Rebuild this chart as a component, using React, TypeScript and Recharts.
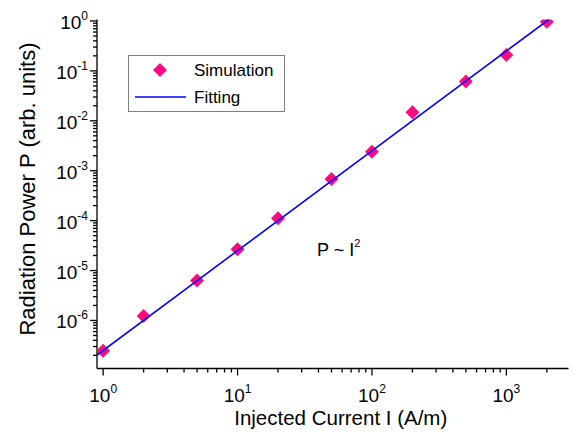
import React from "react";
import {
  ComposedChart,
  Scatter,
  XAxis,
  YAxis,
  Legend,
  ReferenceDot,
} from "recharts";

// simulated radiation power vs injected current
const CURRENT = [1, 2, 5, 10, 20, 50, 100, 200, 500, 1000, 2000];
const POWER = [2.47e-7, 1.23e-6, 6.3e-6, 2.66e-5, 1.11e-4, 6.8e-4, 2.4e-3, 1.48e-2, 6.1e-2, 0.208, 0.97];

// fitted P ~ I^2 line, end points
const FIT_CURRENT = [0.9, 2070];
const FIT_POWER = [2.03e-7, 1.07];

const X_DOMAIN = [0.9, 2900];
const Y_DOMAIN = [1.09e-7, 1.07];

const X_MAJOR = [1, 10, 100, 1000];
const X_MINOR = [2, 3, 4, 5, 6, 7, 8, 9, 20, 30, 40, 50, 60, 70, 80, 90, 200, 300, 400, 500, 600, 700, 800, 900, 2000];
const Y_MAJOR = [1e-6, 1e-5, 1e-4, 1e-3, 1e-2, 1e-1, 1];
const Y_DECADES = [1e-7, 1e-6, 1e-5, 1e-4, 1e-3, 1e-2, 1e-1];
const Y_MINOR = Y_DECADES.flatMap((d) => [2, 3, 4, 5, 6, 7, 8, 9].map((m) => m * d));

const ANNOTATION = { x: 39, y: 2e-5 };

const PINK = "#FF0A7E";
const BLUE = "#0000FF";
const TICK_FONT = "'Liberation Sans Narrow', 'Liberation Sans', Arial, sans-serif";
const FONT = "'Liberation Sans', Arial, sans-serif";

const simData = CURRENT.map((I, i) => ({ I, P: POWER[i] }));
const fitData = FIT_CURRENT.map((I, i) => ({ I, P: FIT_POWER[i] }));

const exp = (v: number) => Math.round(Math.log10(v));

function Pow10({ x, y, e, anchor }: { x: number; y: number; e: number; anchor: string }) {
  return (
    <text x={x} y={y} textAnchor={anchor} fontFamily={TICK_FONT} fontSize={19} fill="#000">
      10
      <tspan dy={-9} fontSize={12}>{e}</tspan>
    </text>
  );
}

function BottomTick(props: any) {
  const { x, y, payload } = props;
  const major = X_MAJOR.includes(payload.value);
  return (
    <g>
      <line x1={x} y1={y} x2={x} y2={y + (major ? 7 : 4)} stroke="#000" strokeWidth={1.3} />
      {major && <Pow10 x={x} y={y + 33} e={exp(payload.value)} anchor="middle" />}
    </g>
  );
}

function TopTick(props: any) {
  const { x, y, payload } = props;
  const major = X_MAJOR.includes(payload.value);
  return <line x1={x} y1={y} x2={x} y2={y + (major ? 7 : 4)} stroke="#000" strokeWidth={1.3} />;
}

function LeftTick(props: any) {
  const { x, y, payload } = props;
  const major = Y_MAJOR.includes(payload.value);
  return (
    <g>
      <line x1={x} y1={y} x2={x - (major ? 7 : 4)} y2={y} stroke="#000" strokeWidth={1.3} />
      {major && <Pow10 x={x - 9} y={y + 8} e={exp(payload.value)} anchor="end" />}
    </g>
  );
}

function RightTick(props: any) {
  const { x, y, payload } = props;
  const major = Y_MAJOR.includes(payload.value);
  return <line x1={x} y1={y} x2={x - (major ? 7 : 4)} y2={y} stroke="#000" strokeWidth={1.3} />;
}

function Diamond(props: any) {
  const { cx, cy, fill } = props;
  const r = 7;
  return (
    <polygon
      points={`${cx},${cy - r} ${cx + r},${cy} ${cx},${cy + r} ${cx - r},${cy}`}
      fill={fill}
    />
  );
}

const NoDot = () => <g />;

function LegendBox({ payload }: any) {
  // markers first, then the fit line
  const items = [...(payload ?? [])].sort(
    (a: any, b: any) => (a.type === "line" ? 1 : 0) - (b.type === "line" ? 1 : 0)
  );
  return (
    <svg width={157} height={57} style={{ display: "block" }}>
      <rect x={0.5} y={0.5} width={156} height={56} fill="#fff" stroke="#808080" />
      {items.map((item: any, i: number) => {
        const cy = 15 + i * 27;
        return (
          <g key={item.value}>
            {item.type === "line" ? (
              <line x1={7} x2={58} y1={cy} y2={cy} stroke={item.color} strokeWidth={1.6} />
            ) : (
              <Diamond cx={32} cy={cy} fill={item.color} />
            )}
            <text x={66} y={cy + 6} fontFamily={FONT} fontSize={17} fill="#000">
              {item.value}
            </text>
          </g>
        );
      })}
    </svg>
  );
}

export default function App() {
  return (
    <div style={{ position: "absolute", left: 0, top: 0, width: 577, height: 437, background: "#fff" }}>
      <ComposedChart width={577} height={437} margin={{ top: 19.5, right: 8.5, bottom: 23.5, left: 37 }}>
        <XAxis
          xAxisId="x"
          dataKey="I"
          type="number"
          scale="log"
          domain={X_DOMAIN}
          allowDataOverflow
          ticks={[...X_MAJOR, ...X_MINOR]}
          interval={0}
          height={45}
          tickSize={0}
          tickMargin={0}
          tickLine={false}
          tick={<BottomTick />}
          axisLine={{ stroke: "#000", strokeWidth: 1.3 }}
          label={{
            content: (p: any) => {
              const vb = p.viewBox ?? {};
              return (
                <text x={vb.x + vb.width / 2 + 8} y={vb.y + 56} textAnchor="middle" fontFamily={FONT} fontSize={20.5} fill="#000">
                  Injected Current I (A/m)
                </text>
              );
            },
          }}
        />
        <XAxis
          xAxisId="xTop"
          orientation="top"
          mirror
          type="number"
          scale="log"
          domain={X_DOMAIN}
          allowDataOverflow
          ticks={[...X_MAJOR, ...X_MINOR]}
          interval={0}
          height={0}
          tickSize={0}
          tickMargin={0}
          tickLine={false}
          tick={<TopTick />}
          axisLine={{ stroke: "#000", strokeWidth: 1.3 }}
        />
        <YAxis
          yAxisId="y"
          type="number"
          scale="log"
          domain={Y_DOMAIN}
          allowDataOverflow
          ticks={[...Y_MAJOR, ...Y_MINOR]}
          interval={0}
          width={60}
          tickSize={0}
          tickMargin={0}
          tickLine={false}
          tick={<LeftTick />}
          axisLine={{ stroke: "#000", strokeWidth: 1.3 }}
          label={{
            content: (p: any) => {
              const vb = p.viewBox ?? {};
              const cx = vb.x - 2;
              const cy = vb.y + vb.height / 2 - 5;
              return (
                <text
                  x={cx}
                  y={cy}
                  transform={`rotate(-90, ${cx}, ${cy})`}
                  textAnchor="middle"
                  fontFamily={FONT}
                  fontSize={22}
                  fill="#000"
                >
                  Radiation Power P (arb. units)
                </text>
              );
            },
          }}
        />
        <YAxis
          yAxisId="yRight"
          orientation="right"
          mirror
          type="number"
          scale="log"
          domain={Y_DOMAIN}
          allowDataOverflow
          ticks={[...Y_MAJOR, ...Y_MINOR]}
          interval={0}
          width={0}
          tickSize={0}
          tickMargin={0}
          tickLine={false}
          tick={<RightTick />}
          axisLine={{ stroke: "#000", strokeWidth: 1.3 }}
        />
        <Legend
          layout="vertical"
          align="center"
          verticalAlign="middle"
          content={<LegendBox />}
          wrapperStyle={{ left: 128, top: 55, width: 157, height: 57 }}
        />
        <Scatter
          name="Simulation"
          data={simData}
          dataKey="P"
          xAxisId="x"
          yAxisId="y"
          fill={PINK}
          legendType="diamond"
          shape={<Diamond />}
          isAnimationActive={false}
        />
        {/* fit drawn as a joined scatter so it sits above the markers */}
        <Scatter
          name="Fitting"
          data={fitData}
          dataKey="P"
          xAxisId="x"
          yAxisId="y"
          fill={BLUE}
          line={{ stroke: BLUE, strokeWidth: 1.6 }}
          shape={<NoDot />}
          legendType="line"
          isAnimationActive={false}
        />
        <ReferenceDot
          x={ANNOTATION.x}
          y={ANNOTATION.y}
          xAxisId="x"
          yAxisId="y"
          r={0}
          fill="none"
          stroke="none"
          label={{
            content: (p: any) => {
              const vb = p.viewBox ?? {};
              return (
                <text x={vb.x} y={vb.y} fontFamily={FONT} fontSize={18} fill="#000">
                  P ~ I
                  <tspan dy={-9} fontSize={11}>2</tspan>
                </text>
              );
            },
          }}
        />
      </ComposedChart>
    </div>
  );
}
